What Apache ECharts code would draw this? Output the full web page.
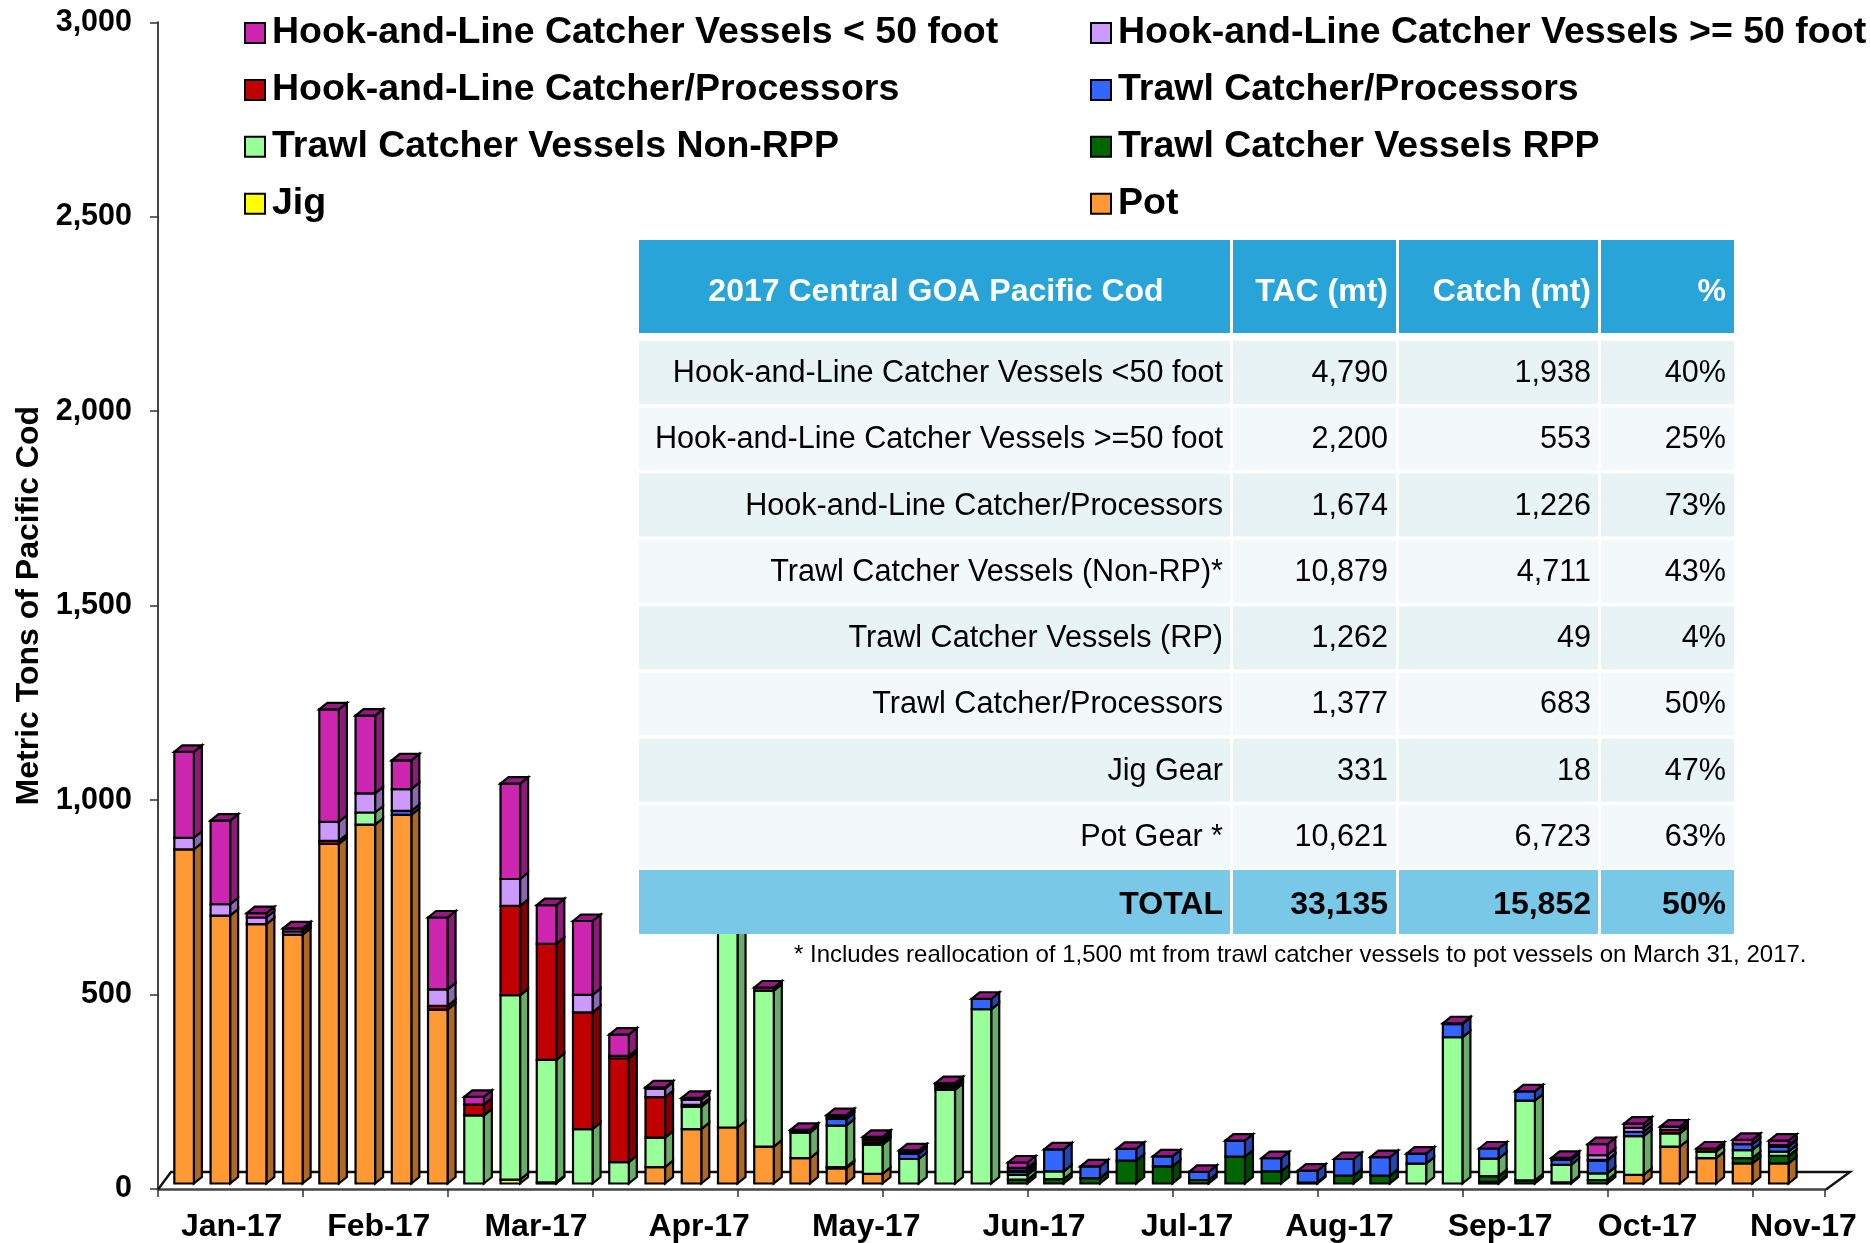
<!DOCTYPE html>
<html><head><meta charset="utf-8">
<style>html,body{margin:0;padding:0;background:#fff}#c{width:1870px;height:1243px}</style>
<script src="https://cdn.jsdelivr.net/npm/echarts@6/dist/echarts.min.js"></script>
</head><body><div id="c"></div>
<script>
const pot       =[859,689,667,640,873,923,948,447,0,0,0,0,0,42,140,144,95,65,39,25,0,0,0,0,0,0,0,0,0,0,0,0,0,0,0,0,4,0,0,0,22,95,65,52,52];
const jig       =[0,0,0,0,0,0,0,0,0,10,0,0,0,0,0,0,0,0,0,0,0,0,0,0,0,0,0,0,0,0,0,0,0,0,0,0,0,0,0,0,0,0,0,0,0];
const rpp       =[0,0,0,0,0,0,0,0,0,0,3,0,0,0,0,0,0,0,3,0,0,0,0,10,11,14,59,44,9,69,31,2,20,20,0,0,15,8,3,9,0,0,0,13,19];
const nonRpp    =[0,0,0,0,0,31,0,0,175,474,315,140,55,76,57,560,401,66,107,75,63,241,448,12,20,0,0,0,0,0,0,0,0,0,51,376,45,205,45,17,100,34,17,21,11];
const trawlCP   =[0,0,0,0,0,0,10,0,0,0,0,0,0,0,0,0,0,4,17,6,14,6,27,8,57,30,30,26,21,41,34,31,43,48,26,34,26,24,13,33,11,0,0,15,13];
const halCP     =[0,0,0,0,8,0,0,10,28,230,298,300,267,104,5,0,0,0,5,6,4,6,0,4,0,0,0,0,0,0,0,0,0,0,0,2,0,0,5,2,0,9,8,0,0];
const halOver50 =[30,29,17,8,49,49,56,42,0,69,0,45,6,22,13,0,0,0,0,3,0,0,0,6,0,0,0,0,0,0,0,0,0,0,0,0,0,0,0,12,10,8,0,0,4];
const halUnder50=[221,215,11,8,289,200,74,185,20,245,100,190,55,3,5,0,8,3,5,5,4,5,0,14,0,0,0,0,0,0,0,0,0,0,0,0,0,0,0,28,11,0,0,11,11];
const weeks=Array.from({length:46},(_,i)=>'W'+(i+1));
const monthLabels=['Jan-17','Feb-17','Mar-17','Apr-17','May-17','Jun-17','Jul-17','Aug-17','Sep-17','Oct-17','Nov-17'];
const monthLabelAt=[2.03,6.09,10.43,14.93,19.54,24.17,28.39,32.6,37.03,41.1,45.4];
const yTicks=[0,500,1000,1500,2000,2500,3000];
const stackOrder=[
 ['Pot',pot,'#FF9933'],
 ['Jig',jig,'#FFFF00'],
 ['Trawl Catcher Vessels RPP',rpp,'#006600'],
 ['Trawl Catcher Vessels Non-RPP',nonRpp,'#99FF99'],
 ['Trawl Catcher/Processors',trawlCP,'#3366FF'],
 ['Hook-and-Line Catcher/Processors',halCP,'#C00000'],
 ['Hook-and-Line Catcher Vessels >= 50 foot',halOver50,'#CC99FF'],
 ['Hook-and-Line Catcher Vessels < 50 foot',halUnder50,'#CC26B0']
];
const legendRows=[
 ['Hook-and-Line Catcher Vessels < 50 foot','Hook-and-Line Catcher Vessels >= 50 foot'],
 ['Hook-and-Line Catcher/Processors','Trawl Catcher/Processors'],
 ['Trawl Catcher Vessels Non-RPP','Trawl Catcher Vessels RPP'],
 ['Jig','Pot']
];
const tableHeader=['2017 Central GOA Pacific Cod','TAC (mt)','Catch (mt)','%'];
const tableRows=[
 ['Hook-and-Line Catcher Vessels <50 foot','4,790','1,938','40%'],
 ['Hook-and-Line Catcher Vessels >=50 foot','2,200','553','25%'],
 ['Hook-and-Line Catcher/Processors','1,674','1,226','73%'],
 ['Trawl Catcher Vessels (Non-RP)*','10,879','4,711','43%'],
 ['Trawl Catcher Vessels (RP)','1,262','49','4%'],
 ['Trawl Catcher/Processors','1,377','683','50%'],
 ['Jig Gear','331','18','47%'],
 ['Pot Gear *','10,621','6,723','63%']
];
const tableTotal=['TOTAL','33,135','15,852','50%'];
const footnote='* Includes reallocation of 1,500 mt from trawl catcher vessels to pot vessels on March 31, 2017.';

const FONT='"Liberation Sans",Arial,sans-serif';
function shade(hex,f){const n=parseInt(hex.slice(1),16);
 return 'rgb('+[(n>>16)&255,(n>>8)&255,n&255].map(v=>Math.round(v*f)).join(',')+')';}
const DX=8,DY=-6.5,LIFT=5.5,LINE={stroke:'#000',lineWidth:2.2};
function makeRender(color,isTop){
 return function(params,api){
  const i=api.value(0),lo=api.value(1),hi=api.value(2);
  const band=api.size([1,0])[0];
  const c0=api.coord([i,lo]),c1=api.coord([i,hi]);
  const x0=c0[0]-1.8,w=band*0.54,x1=x0+w,yb=c0[1]-LIFT,yt=c1[1]-LIFT;
  const kids=[];
  if(hi>lo){
   kids.push({type:'polygon',shape:{points:[[x1,yb],[x1+DX,yb+DY],[x1+DX,yt+DY],[x1,yt]]},
     style:Object.assign({fill:shade(color,0.68)},LINE)});
   kids.push({type:'rect',shape:{x:x0,y:yt,width:w,height:yb-yt},
     style:Object.assign({fill:color},LINE)});
  }
  if(isTop){
   kids.push({type:'polygon',shape:{points:[[x0,yt],[x0+DX,yt+DY],[x1+DX,yt+DY],[x1,yt]]},
     style:Object.assign({fill:shade('#CC26B0',0.72)},LINE)});
  }
  return {type:'group',children:kids};
 };
}
const running=pot.map(()=>0);
const series=stackOrder.map(([name,vals,color],si)=>{
 const data=vals.map((v,i)=>{const lo=running[i];running[i]+=v;return [i,lo,running[i]];});
 return {type:'custom',name,xAxisIndex:0,yAxisIndex:0,clip:false,
  renderItem:makeRender(color,si===stackOrder.length-1),
  encode:{x:0,y:[1,2]},itemStyle:{color},data};
});
const colorOf=n=>stackOrder.find(s=>s[0]===n)[2];
const legends=[];
legendRows.forEach((row,r)=>row.forEach((name,c)=>{
 legends.push({show:true,left:c?1090:244,top:14+r*56.9,padding:0,selectedMode:false,orient:'horizontal',
  itemWidth:20,itemHeight:20,
  textStyle:{fontFamily:FONT,fontWeight:'bold',fontSize:37.5,color:'#000',padding:[0,0,0,2]},
  data:[{name,icon:'rect',itemStyle:{color:colorOf(name),borderColor:'#000',borderWidth:2}}]});
}));

/* table drawn as graphic text and rects */
const colEdges=[639,1233,1399,1601,1734];
const colTextRight=[1223,1388,1591,1726];
const g=[];
function row(cells,top,h,fill,opt){
 for(let c=0;c<4;c++){
  g.push({type:'rect',z:100,shape:{x:colEdges[c],y:top,width:colEdges[c+1]-colEdges[c]-(c<3?3:0),height:h},style:{fill}});
  const hdrFirst=opt.center&&c===0;
  g.push({type:'text',z:101,x:hdrFirst?(colEdges[0]+colEdges[1])/2:colTextRight[c],y:top+h/2+opt.dy,
   style:{text:cells[c],font:(opt.bold?'bold ':'')+opt.size+'px '+FONT,fill:opt.color,
   textAlign:hdrFirst?'center':'right',textVerticalAlign:'middle'}});
 }
}
row(tableHeader,240,93,'#29A4D8',{bold:true,size:32,color:'#fff',center:true,dy:6});
tableRows.forEach((r,i)=>row(r,341+i*66.3,63,i%2?'#F3F8FB':'#E7F3F5',{bold:false,size:30.6,color:'#000',dy:1}));
row(tableTotal,870,64,'#7AC8E8',{bold:true,size:32,color:'#000',dy:3});
g.push({type:'text',z:101,x:794,y:955.5,style:{text:footnote,font:'24px '+FONT,fill:'#000',textVerticalAlign:'middle'}});
/* 3D floor of the chart */
g.push({type:'polyline',z:1,shape:{points:[[158,1189.5],[171,1172],[1850,1172],[1826,1189.5]]},style:{stroke:'#111',lineWidth:2.4,fill:'none'}});

const chart=echarts.init(document.getElementById('c'),null,{width:1870,height:1243});
chart.setOption({
 animation:false,backgroundColor:'#fff',
 legend:legends,
 grid:{left:158,right:44.8,top:22.3,bottom:54,containLabel:false,outerBoundsMode:'none'},
 xAxis:[
  {type:'category',data:weeks,position:'bottom',boundaryGap:true,
   axisLine:{show:true,lineStyle:{color:'#444',width:2.6}},
   axisTick:{show:true,interval:3,length:8,lineStyle:{color:'#333',width:1.5}},
   axisLabel:{show:false},splitLine:{show:false}},
  {type:'value',min:0,max:46,position:'bottom',
   axisLine:{show:false},axisTick:{show:false},splitLine:{show:false},
   axisLabel:{show:true,customValues:monthLabelAt,margin:22,hideOverlap:false,
    fontFamily:FONT,fontWeight:'bold',fontSize:32,color:'#000',
    formatter:(v)=>monthLabels[monthLabelAt.indexOf(v)]}}
 ],
 yAxis:{type:'value',min:yTicks[0],max:yTicks[yTicks.length-1],interval:500,
  name:'Metric Tons of Pacific Cod',nameLocation:'middle',nameRotate:90,nameGap:113,
  nameTextStyle:{fontFamily:FONT,fontWeight:'bold',fontSize:32,color:'#000'},
  axisLine:{show:true,lineStyle:{color:'#444',width:2}},
  axisTick:{show:true,length:8,lineStyle:{color:'#333',width:1.5}},
  splitLine:{show:false},
  axisLabel:{margin:26,padding:[2,0,0,0],fontFamily:FONT,fontWeight:'bold',fontSize:30.5,color:'#000',
   formatter:v=>v.toLocaleString('en-US')}},
 graphic:g,
 series
});
</script></body></html>
